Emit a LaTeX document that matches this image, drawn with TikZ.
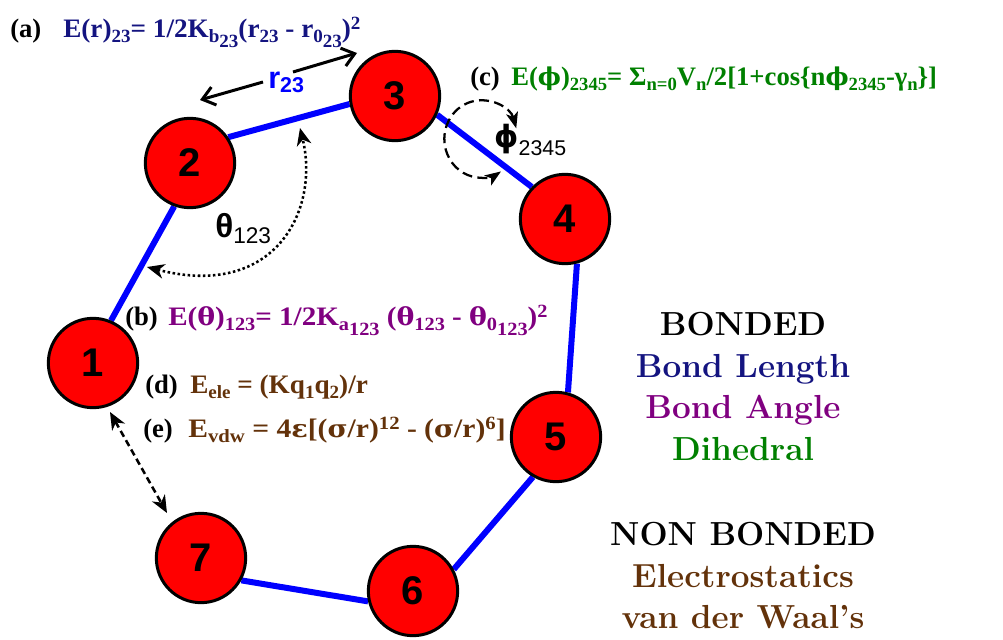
\documentclass[tikz,border=0pt]{standalone}
\usepackage{fontspec}
\newfontfamily\fserif{Liberation Serif}
\newfontfamily\gserif{DejaVu Serif}
\newfontfamily\lsans{Liberation Sans}
\newfontfamily\dvsans{DejaVu Sans}
\usetikzlibrary{arrows.meta,calc,backgrounds}
\definecolor{navyc}{RGB}{20,20,128}
\definecolor{purp}{RGB}{128,0,128}
\definecolor{grn}{RGB}{0,128,0}
\definecolor{brn}{RGB}{99,50,10}
\definecolor{bondblue}{RGB}{0,0,255}
\makeatletter
\newcommand\sbs[1]{\raisebox{-0.2em}{\fontsize{\fpeval{0.7*\f@size}}{1}\selectfont #1}}
\newcommand\sps[1]{\raisebox{0.3em}{\fontsize{\fpeval{0.7*\f@size}}{1}\selectfont #1}}
\newcommand\ssbs[1]{\raisebox{-0.25em}{#1}}
\newcommand\gk[1]{{\gserif\fontsize{\fpeval{0.92*\f@size}}{1}\selectfont #1}}
\makeatother
\tikzset{
  bigtip/.tip={Stealth[length=13pt,width=11pt,inset=4pt]},
  smalltip/.tip={Stealth[length=12pt,width=9pt,inset=3pt]}
}
\begin{document}
\begin{tikzpicture}[x=0.75pt,y=-0.75pt,
  atom/.style={circle,draw=black,line width=2.25pt,fill=red,minimum size=67pt,inner sep=0pt,
    font=\lsans\bfseries\fontsize{30}{30}\selectfont},
  bond/.style={draw=bondblue,line width=4.5pt},
  formula/.style={anchor=base west,inner sep=0pt,font=\fserif\bfseries\fontsize{20}{24}\selectfont},
  tag/.style={formula,text=black},
  legend/.style={anchor=base,inner sep=0pt,font=\rmfamily\bfseries\fontsize{25}{30}\selectfont},
  lenarrow/.style={line width=2.25pt,-{Straight Barb[length=9pt,width=14pt,line width=2.25pt]}},
  mlabel/.style={anchor=base west,inner sep=0pt,font=\lsans\bfseries\fontsize{23}{23}\selectfont}
]
\useasboundingbox (0,0) rectangle (1003,639);

% atoms
\node[atom] (n1) at (93,363) {1};
\node[atom] (n2) at (190,163) {2};
\node[atom] (n3) at (395,96) {3};
\node[atom] (n4) at (565,219) {4};
\node[atom] (n5) at (556,437) {5};
\node[atom] (n6) at (413,591) {6};
\node[atom] (n7) at (201,558) {7};

% bonds
\begin{pgfonlayer}{background}
\draw[bond] (n1.67) -- (n2.250);
\draw[bond] (n2.34) -- (n3.190);
\draw[bond] (n3.-24) -- (n4.136);
\draw[bond] (n4.-75) -- (n5.75);
\draw[bond] (n5.-120) -- (n6.28);
\draw[bond] (n6.193) -- (n7.-29);
\end{pgfonlayer}

% bond length r23
\node[mlabel,text=bondblue] (r23) at (268,88) {r\textsubscript{23}};
\coordinate (rl1) at (263,82);
\coordinate (rl2) at (200,100);
\coordinate (rr1) at (293,72);
\coordinate (rr2) at (357,53);
\draw[lenarrow] (rl1) -- (rl2);
\draw[lenarrow] (rr1) -- (rr2);

% bond angle theta
\coordinate (thA) at (147,267);
\coordinate (thB) at (300,128);
\draw[line width=1.9pt,dash pattern=on 1.9pt off 1.9pt,{bigtip}-{bigtip}] (thA) .. controls (275,300) and (320,210) .. (thB);
\node[mlabel,font=\lsans\bfseries\fontsize{25}{25}\selectfont] (th) at (215,237) {θ{\mdseries\fontsize{17}{17}\selectfont\raisebox{-5pt}{123}}};

% dihedral phi
\coordinate (phc) at (481,139);
\draw[line width=1.7pt,dash pattern=on 7.5pt off 4pt,{smalltip}-{smalltip}]
  ([shift={(16:27.5pt and 29pt)}]phc) arc[start angle=16,end angle=303,x radius=27.5pt,y radius=29pt];
\node[anchor=base west,inner sep=0pt] (ph) at (494,147) {{\dvsans\bfseries\fontsize{23}{23}\selectfont ϕ}{\lsans\fontsize{16}{16}\selectfont\raisebox{-6pt}{2345}}};

% non bonded 1-7
\coordinate (nbA) at (110,412);
\coordinate (nbB) at (167,513);
\draw[line width=1.9pt,dash pattern=on 5pt off 3pt,{bigtip}-{bigtip}] (nbA) -- (nbB);

% formulas
\node[tag] (ta) at (10,37) {(a)};
\node[formula,text=navyc] (fa) at (63,37) {\scalebox{1.02}[1]{E(r)\sbs{23}= 1/2K\sbs{b\ssbs{23}}(r\sbs{23} - r\sbs{0\ssbs{23}})\sps{2}}};
\node[tag] (tc) at (470,85) {(c)};
\node[formula,text=grn] (fc) at (511,85) {E(\gk{ϕ})\sbs{2345}= Σ\sbs{n=0}V\sbs{n}/2[1+cos\{n\gk{ϕ}\sbs{2345}-γ\sbs{n}\}]};
\node[tag] (tb) at (125,325) {(b)};
\node[formula,text=purp] (fb) at (168,325) {\scalebox{1.09}[1]{E(\gk{θ})\sbs{123}= 1/2K\sbs{a\ssbs{123}} (\gk{θ}\sbs{123} - \gk{θ}\sbs{0\ssbs{123}})\sps{2}}};
\node[tag] (td) at (145,393) {(d)};
\node[formula,text=brn] (fd) at (190,393) {\scalebox{1.02}[1]{E\sbs{ele} = (Kq\sbs{1}q\sbs{2})/r}};
\node[tag] (te) at (143,437) {(e)};
\node[formula,text=brn] (fe) at (188,437) {\scalebox{1.11}[1]{E\sbs{vdw} = 4\gk{ε}[(\gk{σ}/r)\sps{12} - (\gk{σ}/r)\sps{6}]}};

% legend
\node[legend,text=black] (l1) at (743,335) {BONDED};
\node[legend,text=navyc] (l2) at (743,377) {Bond Length};
\node[legend,text=purp] (l3) at (743,418) {Bond Angle};
\node[legend,text=grn] (l4) at (743,460) {Dihedral};
\node[legend,text=black] (l5) at (743,545) {NON BONDED};
\node[legend,text=brn] (l6) at (743,587) {Electrostatics};
\node[legend,text=brn] (l7) at (743,628) {van der Waal's};
\end{tikzpicture}
\end{document}
